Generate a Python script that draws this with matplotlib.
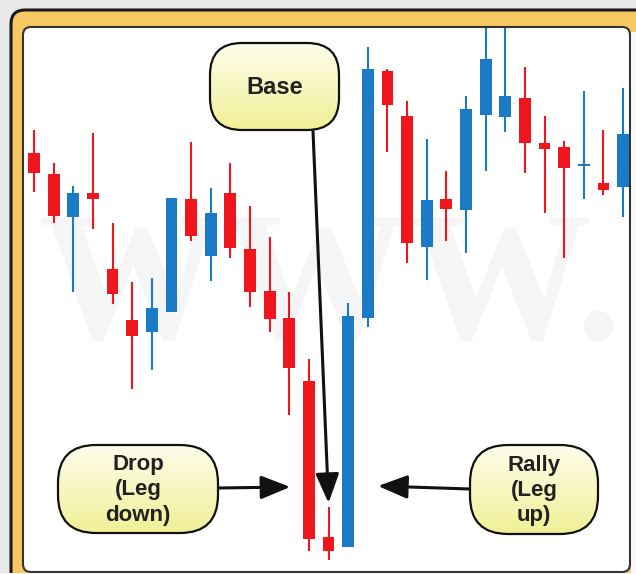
import numpy as np
import matplotlib
matplotlib.use("Agg")
import matplotlib.pyplot as plt
from matplotlib.patches import FancyBboxPatch, Rectangle
from matplotlib.colors import LinearSegmentedColormap

# --------------------------
# Candle data
# --------------------------
opens = [44.7, 42.6, 38.3, 40.7, 33.1, 28.0, 26.8, 28.8, 40.1, 34.4,
         40.7, 35.1, 30.9, 28.2, 21.9, 6.3, 5.3, 28.2, 52.9, 48.4,
         35.3, 40.1, 39.0, 48.5, 48.3, 50.2, 45.7, 45.3, 43.4, 41.7, 41.3]
closes = [42.7, 38.4, 40.7, 40.1, 30.6, 26.4, 29.2, 40.2, 36.4, 38.7,
          35.2, 30.8, 28.1, 23.2, 6.1, 4.9, 28.4, 53.1, 49.5, 35.7,
          40.0, 39.1, 49.1, 54.1, 50.4, 45.7, 45.1, 43.2, 43.6, 41.0, 46.6]
highs = [47.0, 43.7, 41.4, 46.7, 37.7, 31.8, 32.2, 40.2, 45.8, 41.2,
         43.7, 39.4, 36.3, 30.8, 24.1, 9.3, 29.7, 55.3, 53.1, 49.9,
         46.1, 42.9, 50.4, 58.0, 58.0, 53.3, 48.4, 45.9, 50.9, 47.0, 51.2]
lows = [40.8, 37.7, 30.8, 37.1, 29.6, 21.1, 23.0, 28.8, 35.9, 31.9,
        34.2, 29.3, 26.8, 18.5, 4.9, 4.0, 5.3, 27.3, 44.8, 33.7,
        32.0, 35.9, 34.7, 42.9, 46.8, 42.7, 38.7, 34.2, 40.1, 40.5, 38.3]

labels = ["Base", "Drop\n(Leg\ndown)", "Rally\n(Leg\nup)"]

RED = "#f0161e"
BLUE = "#1a7ac6"

W, H = 636, 574
fig = plt.figure(figsize=(W / 100, H / 100), dpi=100)
fig.patch.set_facecolor("#e8e8e8")

# background layer in pixel coords (y down)
bg = fig.add_axes([0, 0, 1, 1], zorder=0)
bg.set_xlim(0, W)
bg.set_ylim(H, 0)
bg.axis("off")

bg.add_patch(FancyBboxPatch((11, 10), 700, 700, boxstyle="round,pad=0,rounding_size=14",
                            fc="#f7c862", ec="#1a1a1a", lw=2.2))
bg.add_patch(FancyBboxPatch((23, 27), 607, 545, boxstyle="round,pad=0,rounding_size=8",
                            fc="white", ec="#333333", lw=1.5))
bg.add_patch(Rectangle((631, 32), 10, 560, fc="#f8f8f8", ec="none"))
bg.add_patch(Rectangle((0, 573), W, 5, fc="#f8f8f8", ec="none"))

# faint watermark
bg.text(330, 338, "WWW.", ha="center", va="baseline", fontsize=133,
        family="Liberation Serif", fontweight="bold", color="#f5f5f5")

# --------------------------
# Candles
# --------------------------
ax = fig.add_axes([24 / W, 1 - 571 / H, (629 - 24) / W, (571 - 28) / H], zorder=1)
ax.patch.set_visible(False)
ax.axis("off")

x = np.arange(len(opens))
o = np.array(opens)
c = np.array(closes)
colors = [BLUE if cc >= oo else RED for oo, cc in zip(o, c)]

ax.vlines(x, lows, highs, colors=colors, lw=1.5, zorder=1)
body = np.where(np.abs(c - o) < 0.2, 0.2, c - o)
ax.bar(x, body, bottom=o, width=0.6, color=colors, zorder=2)
ax.set_xlim(-0.51, 30.3)
ax.set_ylim(2.9, 57.2)

# --------------------------
# Callouts
# --------------------------
ov = fig.add_axes([0, 0, 1, 1], zorder=2)
ov.patch.set_visible(False)
ov.axis("off")

cmap = LinearSegmentedColormap.from_list("callout", ["#fdfdec", "#f1f096"])
grad = np.linspace(0, 1, 100).reshape(-1, 1)


def callout(x0, y0, x1, y1, text, size, rad):
    box = FancyBboxPatch((x0, y0), x1 - x0, y1 - y0,
                         boxstyle=f"round,pad=0,rounding_size={rad}",
                         fc="none", ec="#111111", lw=1.6, zorder=3)
    ov.add_patch(box)
    img = ov.imshow(grad, extent=(x0, x1, y1, y0), cmap=cmap, aspect="auto", zorder=2)
    img.set_clip_path(box)
    ov.text((x0 + x1) / 2, (y0 + y1) / 2 + 1, text, ha="center", va="center",
            fontsize=size, fontweight="bold", family="Liberation Sans",
            color="#222222", linespacing=1.28, zorder=4)


callout(210, 43, 339, 130, labels[0], 17, 32)
callout(58, 445, 218, 533, labels[1], 16, 38)
callout(470, 445, 598, 534, labels[2], 16, 38)

ov.set_xlim(0, W)
ov.set_ylim(H, 0)

arrow = dict(arrowstyle="-|>,head_length=1.0,head_width=0.4", mutation_scale=18,
             lw=2.2, color="#111111", shrinkA=0, shrinkB=0)
ax.annotate("", xy=(15, highs[15] + 0.4), xytext=(313, 131),
            textcoords=ov.transData, arrowprops=arrow)
ax.annotate("", xy=(14 - 0.95, 11.3), xytext=(218, 488),
            textcoords=ov.transData, arrowprops=arrow)
ax.annotate("", xy=(16 + 1.52, 11.4), xytext=(470, 489),
            textcoords=ov.transData, arrowprops=arrow)

fig.savefig("out.png", dpi=100, facecolor=fig.get_facecolor())
